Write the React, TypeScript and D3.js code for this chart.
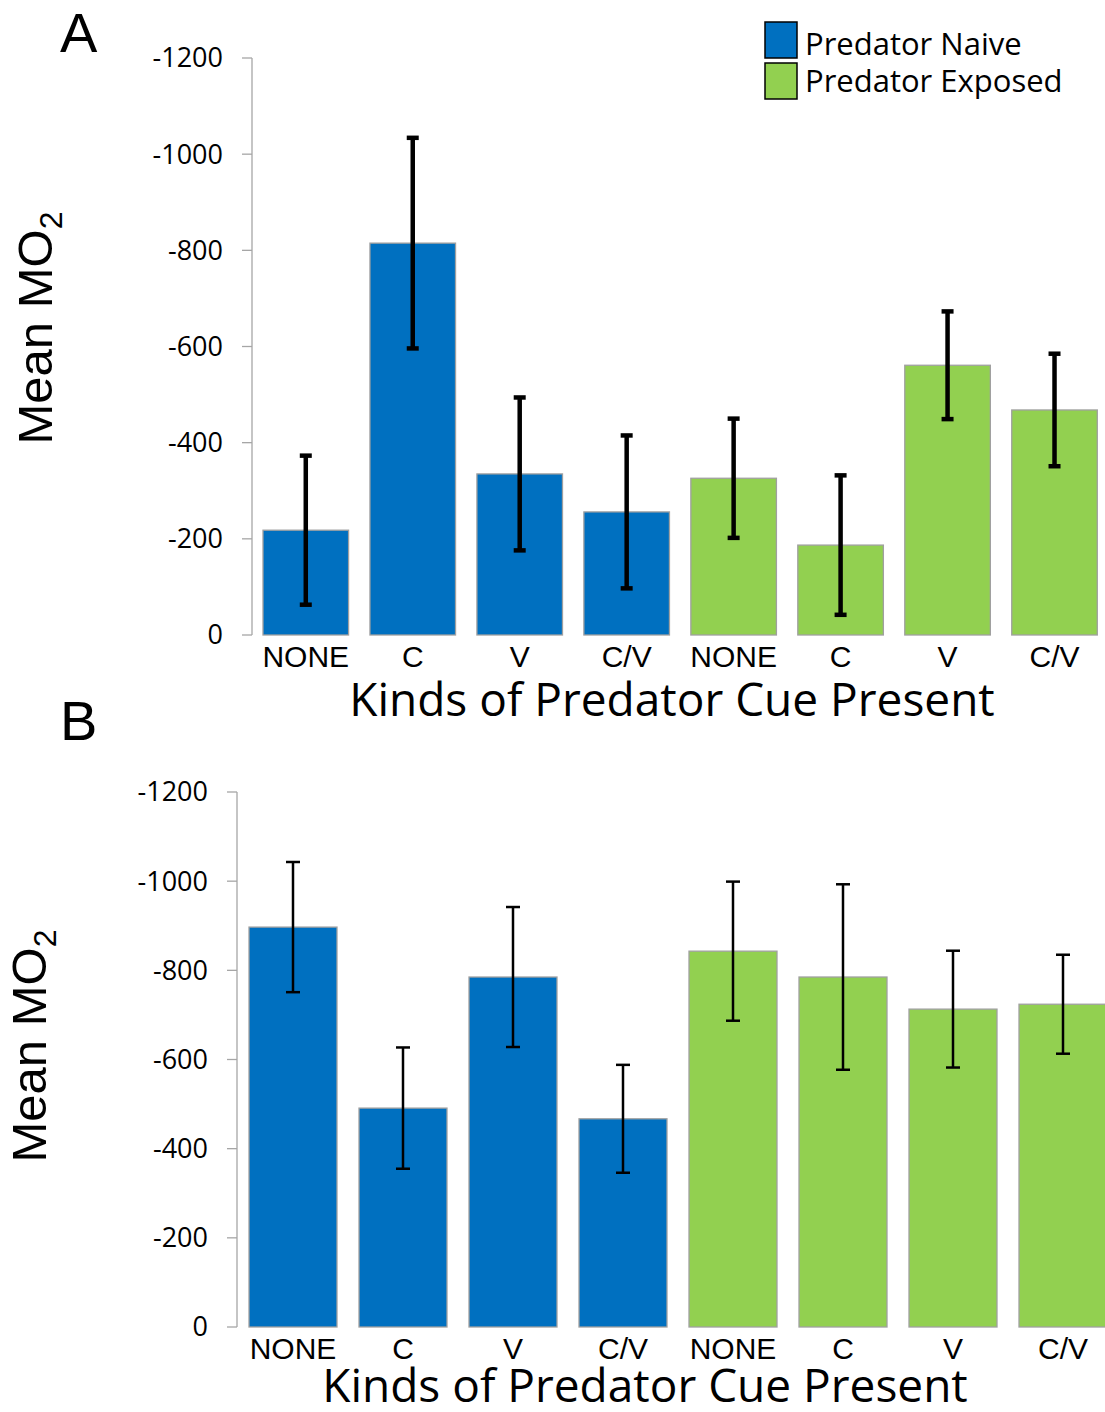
import * as d3 from 'd3';
import { useEffect, useRef } from 'react';

// categories and groups
const cues = ["NONE", "C", "V", "C/V", "NONE", "C", "V", "C/V"];
const groups = ["Predator Naive", "Predator Naive", "Predator Naive", "Predator Naive",
    "Predator Exposed", "Predator Exposed", "Predator Exposed", "Predator Exposed"];
const legendItems = ["Predator Naive", "Predator Exposed"];
const yTicks = [0, -200, -400, -600, -800, -1000, -1200];

// panel A: mean MO2 and error (half length)
const meanA = [-218, -815, -335, -256, -326, -187, -561, -468];
const errA = [155, 219, 159, 159, 124, 145, 112, 117];

// panel B
const meanB = [-897, -491, -785, -467, -843, -785, -713, -724];
const errB = [146, 136, 157, 121, 156, 208, 131, 111];

const colors = { "Predator Naive": "#0070C0", "Predator Exposed": "#92D050" };

function drawPanel(svg, opts) {
    const { means, errs, letter, letterY, axisX, top, bottom, xStart, xEnd, tickLabelX,
        errWidth, capHalf, catY, titleX, titleY, yTitleX, yTitleY } = opts;

    const g = svg.append("g");

    const x = d3.scaleBand()
        .domain(d3.range(cues.length))
        .range([xStart, xEnd])
        .paddingInner(0.2)
        .paddingOuter(0.1);

    const y = d3.scaleLinear()
        .domain([0, -1200])
        .range([bottom, top]);

    // axis line + ticks
    g.append("line")
        .attr("x1", axisX).attr("x2", axisX)
        .attr("y1", y(-1200)).attr("y2", y(0))
        .attr("stroke", "#a6a6a6").attr("stroke-width", 1.3);

    g.selectAll(".tick")
        .data(yTicks)
        .enter().append("line")
        .attr("x1", axisX - 10).attr("x2", axisX)
        .attr("y1", d => y(d)).attr("y2", d => y(d))
        .attr("stroke", "#a6a6a6").attr("stroke-width", 1.3);

    g.selectAll(".ticklabel")
        .data(yTicks)
        .enter().append("text")
        .attr("x", tickLabelX)
        .attr("y", d => y(d))
        .attr("dy", "0.35em")
        .attr("text-anchor", "end")
        .attr("font-family", "'Open Sans', sans-serif")
        .attr("font-size", 27)
        .text(d => String(d));

    // bars
    g.selectAll(".bar")
        .data(means)
        .enter().append("rect")
        .attr("x", (d, i) => x(i))
        .attr("y", d => y(d))
        .attr("width", x.bandwidth())
        .attr("height", d => y(0) - y(d))
        .attr("fill", (d, i) => colors[groups[i]])
        .attr("stroke", "#a0a0a0")
        .attr("stroke-width", 1.3);

    // error bars
    const eb = g.selectAll(".err")
        .data(means)
        .enter().append("g");
    const cx = i => x(i) + x.bandwidth() / 2;
    eb.append("line")
        .attr("x1", (d, i) => cx(i)).attr("x2", (d, i) => cx(i))
        .attr("y1", (d, i) => y(d - errs[i])).attr("y2", (d, i) => y(d + errs[i]))
        .attr("stroke", "black").attr("stroke-width", errWidth);
    eb.append("line")
        .attr("x1", (d, i) => cx(i) - capHalf).attr("x2", (d, i) => cx(i) + capHalf)
        .attr("y1", (d, i) => y(d - errs[i])).attr("y2", (d, i) => y(d - errs[i]))
        .attr("stroke", "black").attr("stroke-width", errWidth);
    eb.append("line")
        .attr("x1", (d, i) => cx(i) - capHalf).attr("x2", (d, i) => cx(i) + capHalf)
        .attr("y1", (d, i) => y(d + errs[i])).attr("y2", (d, i) => y(d + errs[i]))
        .attr("stroke", "black").attr("stroke-width", errWidth);

    // category labels
    g.selectAll(".cat")
        .data(cues)
        .enter().append("text")
        .attr("x", (d, i) => cx(i))
        .attr("y", catY)
        .attr("text-anchor", "middle")
        .attr("font-family", "'Liberation Sans', Arial, sans-serif")
        .attr("font-size", 30)
        .text(d => d);

    // x title
    g.append("text")
        .attr("x", titleX).attr("y", titleY)
        .attr("text-anchor", "middle")
        .attr("font-family", "'Open Sans', sans-serif")
        .attr("font-size", 46)
        .text("Kinds of Predator Cue Present");

    // y title
    const yt = g.append("text")
        .attr("transform", `translate(${yTitleX}, ${yTitleY}) rotate(-90)`)
        .attr("text-anchor", "middle")
        .attr("font-family", "'Liberation Sans', Arial, sans-serif")
        .attr("font-size", 49);
    yt.append("tspan").text("Mean MO");
    yt.append("tspan").attr("font-size", 32).attr("dy", 10).text("2");

    // panel letter
    g.append("text")
        .attr("x", 60).attr("y", letterY)
        .attr("font-family", "'Liberation Sans', Arial, sans-serif")
        .attr("font-size", 56)
        .text(letter);
}

function App() {
    const svgRef = useRef(null);

    useEffect(() => {
        const svg = d3.select(svgRef.current);
        svg.selectAll('*').remove();

        svg.append("rect").attr("width", 1105).attr("height", 1412).attr("fill", "white");

        drawPanel(svg, {
            means: meanA, errs: errA, letter: "A", letterY: 52,
            axisX: 252, top: 58, bottom: 635, xStart: 252.3, xEnd: 1108,
            tickLabelX: 223, errWidth: 4.5, capHalf: 6, catY: 667,
            titleX: 672, titleY: 716, yTitleX: 52, yTitleY: 328
        });

        drawPanel(svg, {
            means: meanB, errs: errB, letter: "B", letterY: 740,
            axisX: 237, top: 792, bottom: 1327, xStart: 238, xEnd: 1118,
            tickLabelX: 208, errWidth: 2.5, capHalf: 7, catY: 1359,
            titleX: 645, titleY: 1402, yTitleX: 46, yTitleY: 1046
        });

        // legend
        const lg = svg.append("g");
        lg.selectAll("rect")
            .data(legendItems)
            .enter().append("rect")
            .attr("x", 765).attr("y", (d, i) => 22 + i * 41)
            .attr("width", 32).attr("height", 36)
            .attr("fill", d => colors[d])
            .attr("stroke", "black").attr("stroke-width", 1.5);
        lg.selectAll("text")
            .data(legendItems)
            .enter().append("text")
            .attr("x", 805).attr("y", (d, i) => 44 + i * 37)
            .attr("dy", "0.35em")
            .attr("font-family", "'Open Sans', sans-serif")
            .attr("font-size", 31)
            .text(d => d);
    }, []);

    return <svg ref={svgRef} width={1105} height={1412}
        style={{ position: 'absolute', left: 0, top: 0 }}></svg>;
}

export default App;
